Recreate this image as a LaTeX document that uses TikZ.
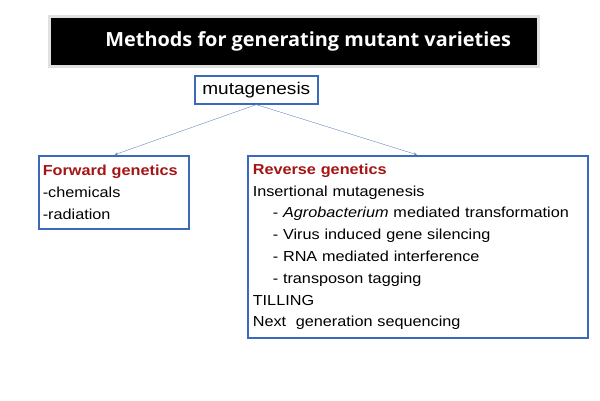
\documentclass[tikz,border=0pt]{standalone}
\usepackage{fontspec}
\setmainfont[FakeStretch=1.12]{Liberation Sans}
\newfontfamily\titlefont[FakeStretch=1.02]{Open Sans}
\usetikzlibrary{positioning}
\definecolor{boxblue}{RGB}{60,105,185}
\definecolor{darkred}{RGB}{165,20,20}
\begin{document}
\begin{tikzpicture}[x=1pt,y=-1pt]
 \tikzstyle{arrow} = [->,>=stealth,draw=boxblue!80,shorten >=1pt];
 \tikzstyle{bluebox} = [draw=boxblue,line width=1.6pt,inner sep=0pt,anchor=north west];
 \tikzstyle{head} = [text=darkred,font=\bfseries];
 \useasboundingbox (0,0) rectangle (600,400);

 %% title
 \fill[black!12] (48,15) rectangle (540,68);
 \node[fill=black,anchor=north west,minimum width=486pt,minimum height=47pt,
       text=white,font=\titlefont\bfseries\fontsize{19.5}{24}\selectfont,name=title]
       at (51,18) {\hspace*{28pt}Methods for generating mutant varieties};

 %% root
 \node[bluebox,minimum width=123pt,minimum height=28pt,font=\fontsize{17}{20}\selectfont,
       name=mut] at (194,75) {mutagenesis};

 %% forward
 \node[bluebox,minimum width=148pt,minimum height=73pt,align=left,
       text width=142pt,inner xsep=4pt,font=\fontsize{14.5}{22}\selectfont,name=fwd] at (38,155)
   {{\bfseries\color{darkred}Forward genetics}\\-chemicals\\-radiation};

 %% reverse
 \node[bluebox,minimum width=338pt,minimum height=182pt,align=left,
       text width=330pt,inner xsep=5pt,font=\fontsize{14.5}{21.8}\selectfont,name=rev] at (247,155)
   {{\bfseries\color{darkred}Reverse genetics}\\
    Insertional mutagenesis\\
    \hspace*{20pt}- \textit{Agrobacterium} mediated transformation\\
    \hspace*{20pt}- Virus induced gene silencing\\
    \hspace*{20pt}- RNA mediated interference\\
    \hspace*{20pt}- transposon tagging\\
    TILLING\\
    Next\ \ generation sequencing};

 \draw[arrow] (mut.south) -- (fwd.north);
 \draw[arrow] (mut.south) -- (rev.north);
\end{tikzpicture}
\end{document}
